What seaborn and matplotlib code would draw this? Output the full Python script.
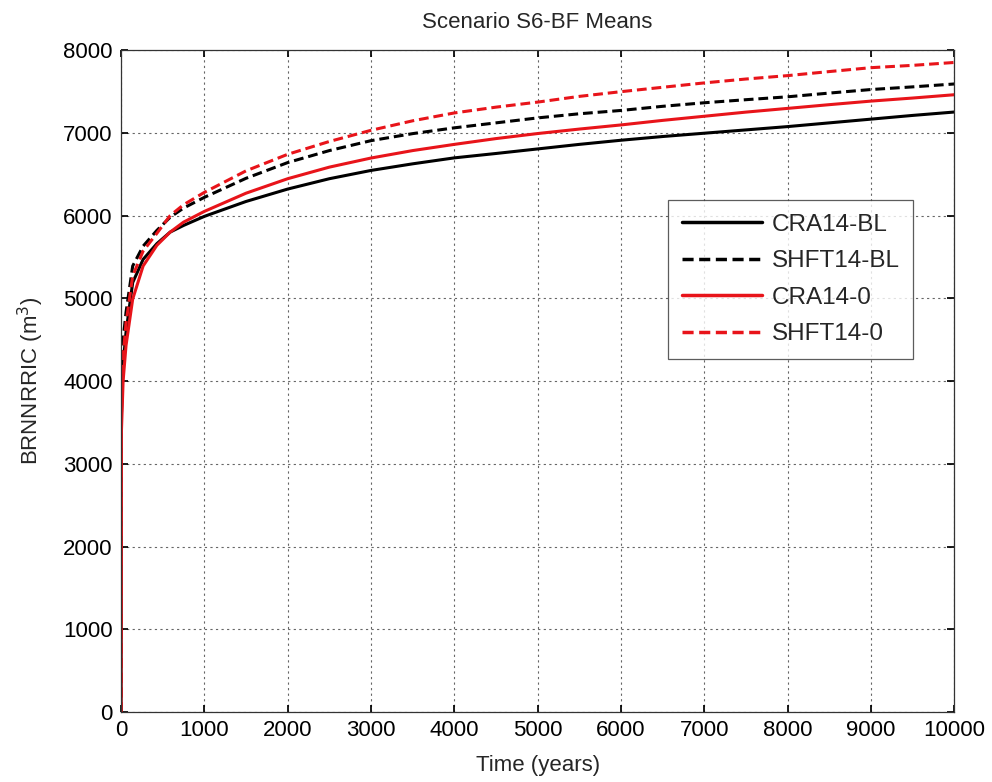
import matplotlib
matplotlib.use("Agg")
import matplotlib.pyplot as plt
import seaborn as sns
import pandas as pd

time_years = [0, 5, 25, 60, 140, 265, 430, 590, 750, 1000, 1500, 2000, 2500, 3000, 3500,
              4000, 4500, 5000, 5500, 6000, 6500, 7000, 7500, 8000, 8500, 9000, 9500, 10000]
cra14_bl = [0, 3600, 4200, 4590, 5190, 5470, 5660, 5800, 5880, 5990, 6170, 6320, 6445, 6545,
            6625, 6697, 6750, 6805, 6860, 6910, 6955, 6995, 7035, 7075, 7120, 7165, 7210, 7251]
shft14_bl = [0, 4000, 4500, 4830, 5390, 5630, 5820, 5980, 6090, 6220, 6450, 6640, 6785, 6905,
             6990, 7060, 7120, 7180, 7230, 7270, 7320, 7363, 7400, 7435, 7480, 7523, 7555, 7590]
cra14_0 = [0, 3400, 4000, 4430, 4990, 5390, 5640, 5800, 5920, 6050, 6270, 6445, 6585, 6695,
           6785, 6860, 6930, 6991, 7045, 7095, 7150, 7200, 7250, 7295, 7340, 7383, 7420, 7460]
shft14_0 = [0, 3800, 4300, 4700, 5270, 5570, 5785, 6000, 6130, 6280, 6540, 6740, 6895, 7030,
            7145, 7240, 7310, 7371, 7440, 7497, 7550, 7603, 7650, 7691, 7740, 7787, 7815, 7850]

series_names = ["CRA14-BL", "SHFT14-BL", "CRA14-0", "SHFT14-0"]
series_values = [cra14_bl, shft14_bl, cra14_0, shft14_0]
series_colors = ["black", "black", "#e8141a", "#e8141a"]
series_dashed = [False, True, False, True]

x_ticks = list(range(0, 10001, 1000))
y_ticks = list(range(0, 8001, 1000))

sns.set_theme(style="white")
plt.rcParams["font.family"] = ["Liberation Sans", "DejaVu Sans"]

fig = plt.figure(figsize=(9.92, 7.82), dpi=100)
ax = fig.add_axes([0.122, 0.0895, 0.84, 0.8465])

for name, vals, col, dashed in zip(series_names, series_values, series_colors, series_dashed):
    df = pd.DataFrame({"t": time_years, "v": vals})
    sns.lineplot(data=df, x="t", y="v", ax=ax, color=col, linewidth=2.2,
                 label=name, estimator=None, sort=False)
    line = ax.lines[-1]
    if dashed:
        line.set_linestyle((0, (3.2, 1.6)))

ax.set_xlim(0, 10000)
ax.set_ylim(0, 8000)
ax.set_xticks(x_ticks)
ax.set_yticks(y_ticks)
ax.set_xticklabels([str(v) for v in x_ticks], fontsize=16)
ax.set_yticklabels([str(v) for v in y_ticks], fontsize=16)
ax.tick_params(direction="in", length=5, top=True, right=True, bottom=True, left=True,
               colors="black", pad=6)
ax.grid(True, color="#666666", linestyle=(0, (2, 3)), linewidth=0.8)
for s in ax.spines.values():
    s.set_color("#333333")
    s.set_linewidth(0.9)

ax.set_title("Scenario S6-BF Means", fontsize=16, pad=16)
ax.set_xlabel("Time (years)", fontsize=16, labelpad=10)
ax.set_ylabel("BRNNRRIC (m$^3$)", fontsize=16, labelpad=12)

leg = ax.legend(loc="upper left", bbox_to_anchor=(0.657, 0.773), borderaxespad=0,
                fontsize=17.5, frameon=True, fancybox=False, handlelength=3.3,
                borderpad=0.55, labelspacing=0.6, handletextpad=0.4)
leg.get_frame().set_edgecolor("#333333")
leg.get_frame().set_linewidth(0.9)
for h in leg.get_lines():
    h.set_linewidth(2.5)

fig.savefig("out.png", dpi=100, facecolor="white")
